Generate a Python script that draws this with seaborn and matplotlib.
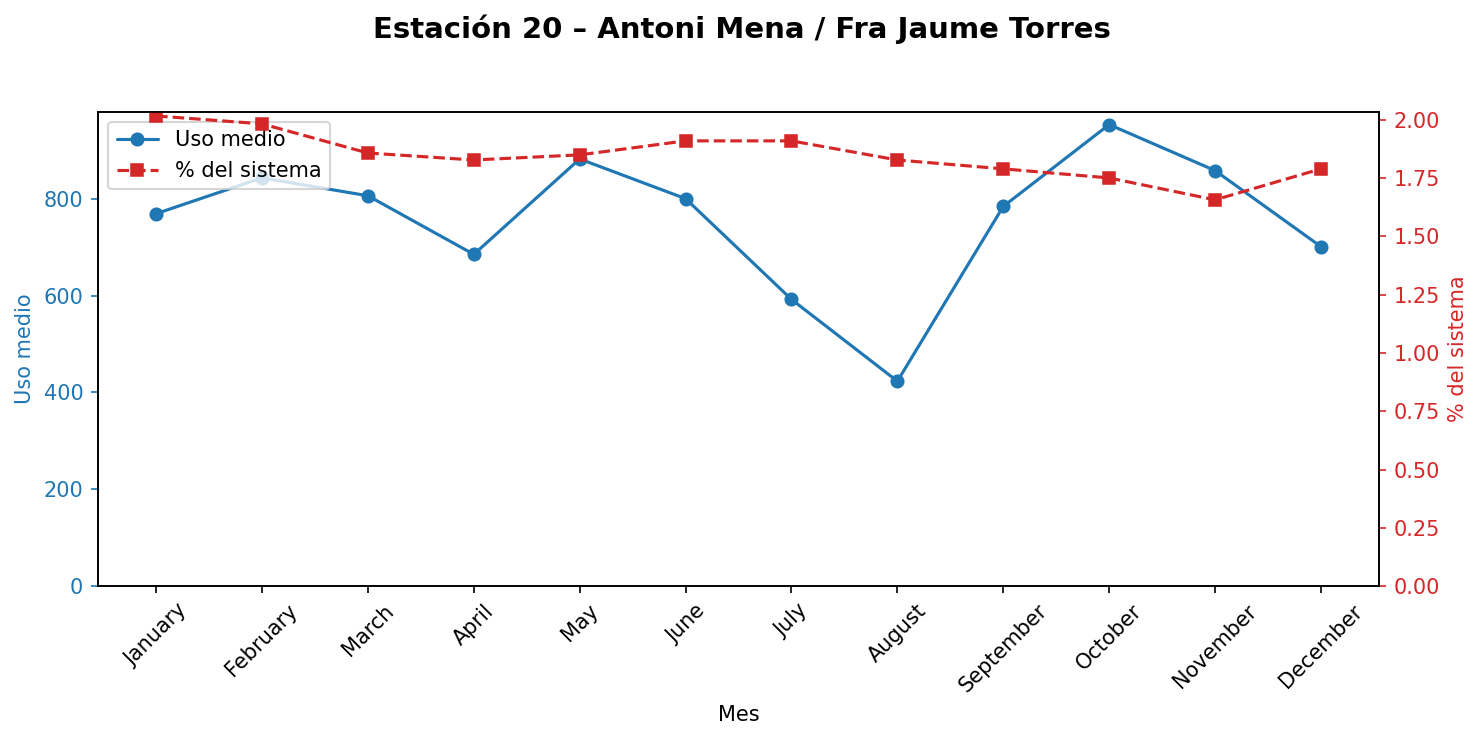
import matplotlib
matplotlib.use("Agg")
import matplotlib.pyplot as plt
import pandas as pd
import seaborn as sns

months = ['January', 'February', 'March', 'April', 'May', 'June', 'July',
          'August', 'September', 'October', 'November', 'December']
uso_medio = [769, 843, 806, 685, 882, 800, 592, 423, 784, 953, 858, 701]
pct_sistema = [2.017, 1.983, 1.858, 1.828, 1.850, 1.910, 1.910, 1.828,
               1.790, 1.751, 1.657, 1.790]

df = pd.DataFrame({'Mes': months, 'Uso medio': uso_medio, '% del sistema': pct_sistema})

sns.set_style("ticks")
plt.rcParams['font.family'] = ['DejaVu Sans']
plt.rcParams.update({'text.color': 'black', 'axes.labelcolor': 'black',
                     'xtick.color': 'black', 'ytick.color': 'black',
                     'axes.edgecolor': 'black'})

fig, ax = plt.subplots(figsize=(1483 / 150, 740 / 150), dpi=150)
fig.subplots_adjust(left=0.066, right=0.930, top=0.849, bottom=0.208)

sns.lineplot(data=df, x='Mes', y='Uso medio', ax=ax, color='tab:blue',
             marker='o', markersize=6, markeredgecolor='tab:blue',
             label='Uso medio')
ax2 = ax.twinx()
sns.lineplot(data=df, x='Mes', y='% del sistema', ax=ax2, color='tab:red',
             marker='s', markersize=6, markeredgecolor='tab:red', linestyle='--',
             label='% del sistema')

ax.set_ylim(bottom=0)
ax2.set_ylim(bottom=0)
ax.set_xlabel('Mes')
ax.set_ylabel('Uso medio', color='tab:blue')
ax2.set_ylabel('% del sistema', color='tab:red')
ax.tick_params(axis='y', colors='tab:blue')
ax2.tick_params(axis='y', colors='tab:red')
ax.tick_params(axis='x', rotation=45)
ax2.yaxis.set_major_formatter(matplotlib.ticker.FormatStrFormatter('%.2f'))

h1, l1 = ax.get_legend_handles_labels()
h2, l2 = ax2.get_legend_handles_labels()
if ax2.get_legend() is not None:
    ax2.get_legend().remove()
ax.legend(h1 + h2, l1 + l2, loc='upper left')

fig.suptitle('Estación 20 – Antoni Mena / Fra Jaume Torres', fontsize=14, fontweight='bold')
fig.savefig('out.png', dpi=150)
